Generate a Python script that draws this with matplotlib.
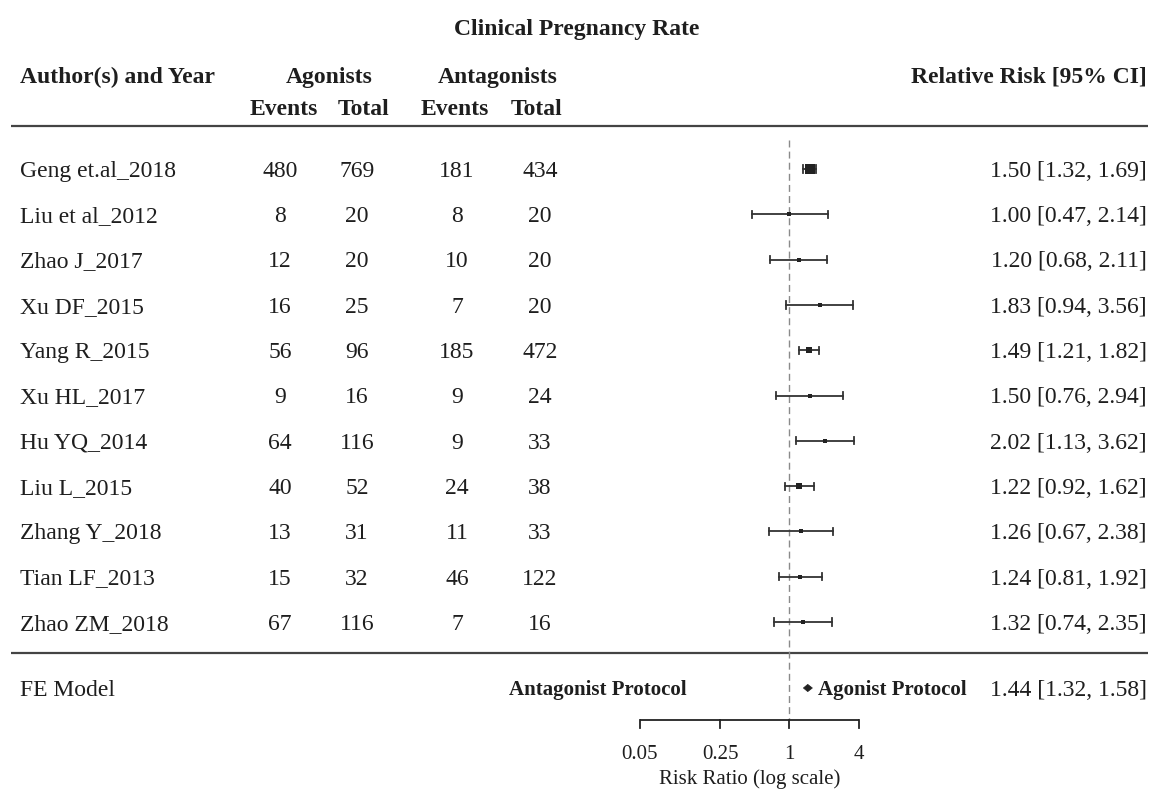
import numpy as np
import matplotlib
matplotlib.use("Agg")
import matplotlib.pyplot as plt
from matplotlib.patches import Polygon

# ---------------- data ----------------
studies = ["Geng et.al_2018", "Liu et al_2012", "Zhao J_2017", "Xu DF_2015", "Yang R_2015",
           "Xu HL_2017", "Hu YQ_2014", "Liu L_2015", "Zhang Y_2018", "Tian LF_2013", "Zhao ZM_2018"]
ago_events = [480, 8, 12, 16, 56, 9, 64, 40, 13, 15, 67]
ago_total = [769, 20, 20, 25, 96, 16, 116, 52, 31, 32, 116]
ant_events = [181, 8, 10, 7, 185, 9, 9, 24, 11, 46, 7]
ant_total = [434, 20, 20, 20, 472, 24, 33, 38, 33, 122, 16]
rr = [1.50, 1.00, 1.20, 1.83, 1.49, 1.50, 2.02, 1.22, 1.26, 1.24, 1.32]
ci_lo = [1.32, 0.47, 0.68, 0.94, 1.21, 0.76, 1.13, 0.92, 0.67, 0.81, 0.74]
ci_hi = [1.69, 2.14, 2.11, 3.56, 1.82, 2.94, 3.62, 1.62, 2.38, 1.92, 2.35]
fe_rr, fe_lo, fe_hi = 1.44, 1.32, 1.58
x_ticks = [0.05, 0.25, 1, 4]
x_tick_labels = ["0.05", "0.25", "1", "4"]

# ---------------- figure ----------------
W, H = 1151, 789
fig = plt.figure(figsize=(W / 100, H / 100), dpi=100)
plt.rcParams['font.family'] = ['Liberation Serif', 'DejaVu Serif']

# table axes in pixel coordinates
tab = fig.add_axes([0, 0, 1, 1])
tab.set_xlim(0, W)
tab.set_ylim(H, 0)
tab.axis('off')

# forest axes, log scale, sharing pixel rows
x1px, kpx = 789.5, 50.0
fx = fig.add_axes([0, 0, 1, 1], sharey=tab)
fx.set_xscale('log')
fx.set_xlim(np.exp((0 - x1px) / kpx), np.exp((W - x1px) / kpx))
fx.axis('off')
fx.patch.set_alpha(0)

FS = 17
FS_SMALL = 15
TXT = '#1e1e1e'
row0, drow = 169.0, 45.3
rows = [row0 + i * drow for i in range(len(studies))]
fe_row = 688.0

def boff(size):
    return 0.662 * size * 100 / 72 / 2  # half cap height, for baseline placement

def t(x, y, s, ha='left', bold=False, size=FS, ax=None):
    (ax or tab).text(x, y + boff(size), s, ha=ha, va='baseline', fontsize=size,
                     fontweight='bold' if bold else 'normal', color=TXT)

# title and headers
t(577, 27, "Clinical Pregnancy Rate", ha='center', bold=True)
t(20, 75, "Author(s) and Year", bold=True)
t(329, 75, "Agonists", ha='center', bold=True)
t(498, 75, "Antagonists", ha='center', bold=True)
t(1147, 75, "Relative Risk [95% CI]", ha='right', bold=True)
t(284, 107, "Events", ha='center', bold=True)
t(364, 107, "Total", ha='center', bold=True)
t(455, 107, "Events", ha='center', bold=True)
t(537, 107, "Total", ha='center', bold=True)

# rules
for yy in (126, 653):
    tab.plot([11, 1148], [yy, yy], color='#444444', lw=1.6, solid_capstyle='butt')

# study rows
for i, y in enumerate(rows):
    t(20, y, studies[i])
    t(280, y, str(ago_events[i]), ha='center')
    t(357, y, str(ago_total[i]), ha='center')
    t(457, y, str(ant_events[i]), ha='center')
    t(540, y, str(ant_total[i]), ha='center')
    t(1147, y, f"{rr[i]:.2f} [{ci_lo[i]:.2f}, {ci_hi[i]:.2f}]", ha='right')

# FE row text
t(20, fe_row, "FE Model")
t(687, fe_row, "Antagonist Protocol", ha='right', bold=True, size=FS_SMALL)
t(818, fe_row, "Agonist Protocol", ha='left', bold=True, size=FS_SMALL)
t(1147, fe_row, f"{fe_rr:.2f} [{fe_lo:.2f}, {fe_hi:.2f}]", ha='right')

# reference line at 1
fx.plot([1, 1], [140, 720], color='#8a8a8a', lw=1.0, dashes=(5, 3), zorder=1)

# box sizes from inverse-variance weights
se = (np.log(ci_hi) - np.log(ci_lo)) / 3.92
sw = np.sqrt(1 / se ** 2)
psize = 0.5 + (sw - sw.min()) / (sw.max() - sw.min())

LC = '#333333'
cap = 3.6
for i, y in enumerate(rows):
    fx.plot([ci_lo[i], ci_hi[i]], [y, y], color=LC, lw=1.3, zorder=2)
    for xv in (ci_lo[i], ci_hi[i]):
        fx.plot([xv, xv], [y - cap, y + cap], color=LC, lw=1.3, zorder=2)
    fx.plot([rr[i]], [y], marker='s', ms=4.4 * psize[i], color='#222222',
            mec='#222222', mew=0, zorder=3)

# FE diamond
dh = 3.6
fx.add_patch(Polygon([(fe_lo, fe_row), (fe_rr, fe_row - dh), (fe_hi, fe_row), (fe_rr, fe_row + dh)],
                     closed=True, facecolor='#222222', edgecolor='#222222', lw=0.5, zorder=3))

# x axis
ax_y = 720
fx.plot([x_ticks[0], x_ticks[-1]], [ax_y, ax_y], color='#222222', lw=1.3, solid_capstyle='butt')
for xv, lab in zip(x_ticks, x_tick_labels):
    fx.plot([xv, xv], [ax_y, ax_y + 8], color='#222222', lw=1.3)
    t(xv, 752, lab, ha='center', size=FS_SMALL, ax=fx)
t(np.sqrt(x_ticks[0] * x_ticks[-1]), 777, "Risk Ratio (log scale)", ha='center', size=FS_SMALL, ax=fx)

fig.savefig("out.png", dpi=100, facecolor='white')
